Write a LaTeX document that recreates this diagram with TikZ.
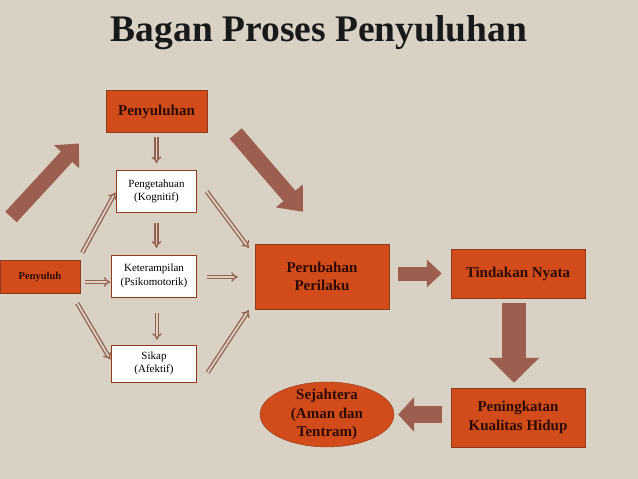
\documentclass[tikz,border=0pt]{standalone}
\usepackage{fontspec}
\setmainfont{Liberation Serif}
\usepackage{xcolor}
\usetikzlibrary{arrows.meta,shapes.geometric}
\definecolor{bganBack}{HTML}{D8D1C4}
\definecolor{bganOrange}{HTML}{D24B1A}
\definecolor{bganOrangeLine}{HTML}{8E3A1C}
\definecolor{bganBrown}{HTML}{9C5F4F}
\definecolor{bganText}{HTML}{2B0A00}
\definecolor{bganThin}{HTML}{946050}
\tikzset{
  orange box/.style={draw=bganOrangeLine, fill=bganOrange, text=bganText,
    align=center, inner sep=2pt, font=\bfseries\fontsize{15}{18.5}\selectfont},
  white box/.style={draw=bganOrangeLine, fill=white, text=black,
    align=center, inner sep=2pt, font=\fontsize{11}{13.5}\selectfont},
  block/.style={draw=bganBrown, fill=bganBrown},
  dbl/.style={-{Implies}, line width=1.3pt, draw=bganThin,
    double=bganBack, double distance=1.8pt}
}

\begin{document}
\begin{tikzpicture}[x=1pt, y=-1pt]
  \useasboundingbox (0,0) rectangle (638,479);
  \fill[bganBack] (0,0) rectangle (638,479);

  \node[font=\bfseries\fontsize{37.5}{42}\selectfont, text=black!90] (title)
    at (319,33) {Bagan Proses Penyuluhan};

  % left column
  \node[orange box, minimum width=101pt, minimum height=42pt] (penyuluhan)
    at (156.5,111.5) {Penyuluhan};
  \node[white box, minimum width=80pt, minimum height=42pt] (pengetahuan)
    at (156.5,191.5) {Pengetahuan\\(Kognitif)};
  \node[white box, minimum width=85pt, minimum height=42pt] (keterampilan)
    at (154,276) {Keterampilan\\(Psikomotorik)};
  \node[white box, minimum width=85pt, minimum height=37pt] (sikap)
    at (154,363.5) {Sikap\\(Afektif)};
  \node[orange box, minimum width=80pt, minimum height=33pt,
    font=\bfseries\fontsize{10.5}{12}\selectfont] (penyuluh)
    at (40,276.5) {Penyuluh};

  % right part
  \node[orange box, minimum width=134pt, minimum height=65pt] (perubahan)
    at (322,276.5) {Perubahan\\Perilaku};
  \node[orange box, minimum width=134pt, minimum height=49pt] (tindakan)
    at (518,273.5) {Tindakan Nyata};
  \node[orange box, minimum width=134pt, minimum height=59pt] (peningkatan)
    at (518,417.5) {Peningkatan\\Kualitas Hidup};
  \node[orange box, ellipse, inner xsep=0pt, inner ysep=-8pt,
    minimum width=134pt, minimum height=65pt] (sejahtera)
    at (327,414.5) {Sejahtera\\(Aman dan\\Tentram)};

  % big arrows
  \coordinate (kiri) at (11,217);
  \coordinate (atas) at ([shift={(-27,32)}]penyuluhan.west);
  \coordinate (ekor) at ([shift={(28.5,22)}]penyuluhan.east);
  \coordinate (ujung) at ([shift={(-19,-32)}]perubahan.north);
  \draw[block, line width=15.5pt,
    -{Triangle[length=18pt, width=33pt]}] (kiri) -- (atas);
  \draw[block, line width=16pt,
    -{Triangle[length=21pt, width=34pt]}] (ekor) -- (ujung);
  \draw[block, line width=14pt, -{Triangle[length=15pt, width=27pt]}]
    ([shift={(9,-3)}]perubahan.east) -- ([xshift=-9pt]tindakan.west);
  \draw[block, line width=24pt, -{Triangle[length=25pt, width=49pt]}]
    ([shift={(-4,5)}]tindakan.south) -- ([shift={(-4,-5)}]peningkatan.north);
  \draw[block, line width=17pt, -{Triangle[length=16pt, width=34pt]}]
    ([shift={(-9,-3)}]peningkatan.west) -- ([xshift=4pt]sejahtera.east);

  % thin double arrows
  \draw[dbl] ([shift={(0,4)}]penyuluhan.south) -- ([shift={(0,-7)}]pengetahuan.north);
  \draw[dbl] ([shift={(0,10)}]pengetahuan.south) -- ([shift={(2.5,-7)}]keterampilan.north);
  \draw[dbl] ([shift={(3,16)}]keterampilan.south) -- ([shift={(3,-5)}]sikap.north);
  \draw[dbl] ([shift={(2,-7)}]penyuluh.north east) -- ([shift={(-1,1)}]pengetahuan.west);
  \draw[dbl] ([shift={(5,5.5)}]penyuluh.east) -- ([shift={(-1,6)}]keterampilan.west);
  \draw[dbl] ([shift={(-3,10)}]penyuluh.south east) -- ([shift={(-1,-4)}]sikap.west);
  \draw[dbl] ([shift={(10,0)}]pengetahuan.east) -- ([shift={(-6,4)}]perubahan.north west);
  \draw[dbl] ([shift={(10,1)}]keterampilan.east) -- ([shift={(-17,0.5)}]perubahan.west);
  \draw[dbl] ([shift={(11,9)}]sikap.east) -- ([shift={(-6,1)}]perubahan.south west);
\end{tikzpicture}
\end{document}
